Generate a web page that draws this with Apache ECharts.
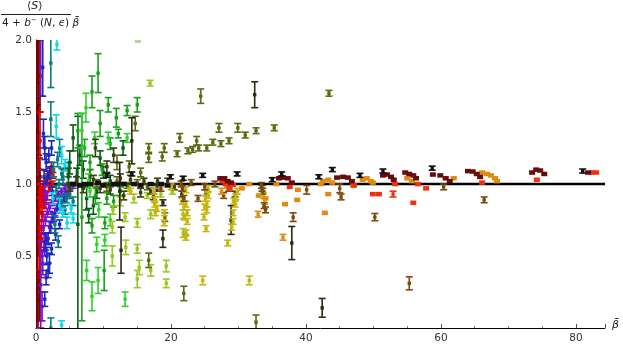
<!DOCTYPE html>
<html>
<head>
<meta charset="utf-8">
<script src="https://cdn.jsdelivr.net/npm/echarts@6/dist/echarts.min.js"></script>
<style>
  html, body { margin: 0; padding: 0; background: #fff; }
  #chart { width: 623px; height: 349px; }
</style>
</head>
<body>
<div id="chart"></div>
<script>
// each point: [beta, ratio, error]  (error 0 = plain square marker)
const darkRed = [[0.1,1.0,1.0],[0.3,1.25,0.75],[0.2,0.55,0.5],[0.4,1.6,0.4],[0.2,1.85,0.15],[0.3,0.2,0.2],
  [0.5,1.1,0.08],[0.4,0.9,0.1],[0.6,1.05,0.05],[0.2,1.45,0.1],[0.3,0.75,0.12],[0.6,1.75,0.25],[0.5,0.35,0.3]];
const red = [[0.5,0.7,0.3],[0.6,1.3,0.2],[0.7,0.95,0.05],[0.8,0.9,0.04],[0.9,0.93,0.03],[1.0,0.97,0.03],
  [1.2,1.0,0.02],[0.7,0.5,0.15],[1.5,1.02,0.02],[1.8,1.05,0.02],[2.1,1.08,0.03],[2.3,1.12,0.03],[2.5,1.06,0.02],
  [0.6,0.85,0.06],[0.9,0.8,0.05],[1.1,0.88,0.04],[0.8,0.62,0.06],[0.8,0.7,0.04],[1.0,0.78,0.03],[1.3,0.86,0.03],
  [1.6,0.92,0.03],[2.0,0.97,0.02],[2.4,1.0,0.02]];
const purple = [[0.7,1.81,0.2],[0.7,0.3,0.3],[1.0,0.45,0.08],[1.2,0.6,0.06],[1.1,0.7,0.05],[1.4,0.75,0.04],
  [1.7,0.8,0.03],[2.0,0.84,0.03],[2.4,0.87,0.02],[2.8,0.9,0.02],[3.3,0.93,0.02],[3.8,0.95,0.02],[4.3,0.97,0.02],
  [4.8,0.98,0.02],[5.5,0.99,0.02],[1.3,0.95,0.05],[1.5,0.9,0.04],[0.9,0.15,0.1],[1.3,0.55,0.05],[1.6,0.62,0.04],
  [2.0,0.7,0.04],[2.4,0.76,0.03],[2.8,0.8,0.03],[3.3,0.85,0.03],[3.9,0.89,0.02],[4.6,0.92,0.02]];
const blue = [[1.0,1.81,0.2],[2.0,0.45,0.07],[1.6,0.5,0.06],[1.4,0.6,0.06],[1.8,0.62,0.04],[2.2,0.7,0.04],
  [2.6,0.77,0.03],[3.1,0.83,0.03],[3.7,0.87,0.02],[4.2,0.9,0.02],[1.3,1.25,0.08],[1.5,1.15,0.06],[1.2,1.05,0.05],
  [1.7,1.05,0.04],[2.0,1.08,0.04],[1.1,1.35,0.1],[2.4,0.95,0.03],[1.5,0.35,0.05],[1.8,0.4,0.05],[2.3,0.55,0.04],
  [2.9,0.65,0.04],[3.5,0.72,0.03],[1.3,0.2,0.05],[1.9,1.2,0.05],[2.3,1.25,0.05]];
const teal = [[2.2,1.84,0.17],[2.2,1.45,0.12],[2.2,0.0,0.07],[3.0,0.95,0.04],[3.4,1.0,0.03],[3.8,0.88,0.04],
  [4.5,0.9,0.03],[5.0,0.93,0.03],[2.6,1.1,0.05],[3.2,1.17,0.05],[3.8,1.07,0.04],[4.3,0.82,0.03],[5.5,0.88,0.03],
  [2.8,0.72,0.06],[3.5,1.25,0.06],[4.0,1.05,0.05],[4.8,1.1,0.05],[3.3,0.6,0.04]];
const cyan = [[3.1,1.97,0.04],[3.0,1.40,0.08],[4.6,0.73,0.04],[4.0,0.8,0.03],[3.5,0.85,0.05],[5.2,0.83,0.03],
  [3.8,0.02,0.03],[3.8,1.2,0.06],[4.3,1.13,0.04],[5.5,0.76,0.03],[2.5,0.9,0.04]];
const darkGreen = [[6.2,0.72,0.75],[5.5,1.32,0.09],[12.9,1.25,0.05],[5.0,1.15,0.08],[6.0,1.05,0.06],[7.0,1.1,0.06],
  [8.0,1.05,0.05],[9.0,0.95,0.05],[7.5,0.9,0.08],[8.5,0.85,0.06],[10.0,1.08,0.04],[11.0,1.02,0.04],[6.5,1.2,0.07],
  [9.5,1.18,0.05],[4.8,1.05,0.06],[7.8,0.78,0.05]];
const green = [[6.8,0.77,0.72],[6.2,1.37,0.12],[9.2,1.77,0.135],[8.3,1.64,0.11],[9.5,1.42,0.09],[10.7,1.55,0.05],
  [11.9,1.46,0.065],[8.3,0.71,0.05],[10.2,0.73,0.04],[10.1,0.40,0.14],[15,1.55,0.05],[12.2,1.35,0.03],
  [13.5,1.51,0.035],[11,1.28,0.04],[8.0,1.15,0.05],[9.8,1.1,0.04],[10.5,0.9,0.04],[8.8,0.92,0.06],[11.5,0.88,0.04],
  [12.5,0.95,0.03],[7.2,1.25,0.06]];
const brightGreen = [[7.4,1.53,0.10],[6.8,1.37,0.12],[8.7,1.32,0.04],[10.7,1.32,0.04],[13.5,1.32,0.03],
  [7.5,0.40,0.07],[8.3,0.22,0.1],[9.2,0.33,0.09],[9.0,0.58,0.05],[10.2,0.61,0.04],[13.2,0.2,0.05],[7.8,1.02,0.05],
  [9.3,0.82,0.05],[11.0,0.75,0.04],[8.0,0.95,0.04]];
const yellowGreen = [[16.9,1.70,0.02],[11.3,0.70,0.04],[11.4,0.82,0.03],[13.2,0.77,0.03],[13.3,0.56,0.05],
  [15,0.73,0.03],[15,0.55,0.03],[15.3,0.42,0.05],[15,0.34,0.06],[17,0.40,0.04],[17,0.79,0.03],[19.3,0.43,0.04],
  [19.3,0.31,0.03],[21.8,0.79,0.03],[21.8,0.66,0.03],[12.5,0.88,0.03],[14.5,0.9,0.03],[16.5,0.92,0.02],
  [18.5,0.93,0.02],[20.2,0.95,0.02],[13.8,0.97,0.02],[11.3,0.5,0.07]];
const paleGreen = [[15.1,1.995,0]];
const olive = [[24.4,1.61,0.05],[43.4,1.63,0.02],[21.3,1.32,0.03],[23.8,1.30,0.03],[27.1,1.39,0.03],
  [29.9,1.39,0.03],[31.0,1.34,0.02],[32.6,1.37,0.02],[35.3,1.39,0.02],[16.7,1.25,0.03],[19.0,1.25,0.03],
  [20.9,1.21,0.02],[22.5,1.23,0.02],[23.2,1.24,0.02],[24.1,1.25,0.02],[25.3,1.25,0.02],[26.2,1.29,0.02],
  [27.4,1.28,0.02],[28.6,1.30,0.02],[16.7,1.18,0.03],[18.7,1.19,0.03],[16.7,0.47,0.05],[19.1,0.77,0.03],
  [21.9,0.24,0.05],[14.7,1.42,0.05],[32.6,0.04,0.05],[13.8,1.12,0.04],[15.5,1.08,0.03],[12.0,1.15,0.05],
  [9.0,1.0,0.03],[10.5,0.98,0.03],[12.0,1.02,0.03],[13.5,0.99,0.02],[15.0,1.01,0.02],[16.5,0.98,0.02]];
const darkOlive = [[5,0.98,0.03],[6,1.02,0.03],[7,0.97,0.03],[8.5,1.03,0.03],[9.5,0.97,0.03],[11,0.96,0.03],
  [12.5,1.04,0.03],[14,1.03,0.03],[16,1.02,0.02],[17,0.95,0.02],[18,1.02,0.02],[19.5,1.02,0.02],[20.5,0.98,0.02],
  [13,0.92,0.03],[15.5,0.94,0.03],[10.5,1.12,0.04],[11.5,1.2,0.05],[8.8,1.25,0.06],[17.4,0.91,0.02],
  [21.6,0.93,0.02],[25.2,0.94,0.02],[29.5,0.93,0.02],[33.5,0.97,0.02]];
const nearBlack = [[32.4,1.62,0.09],[14.2,1.3,0.16],[12.6,0.54,0.16],[12.4,0.95,0.2],[28.9,0.75,0.1],
  [37.9,0.59,0.115],[42.4,0.14,0.065],[18.8,0.62,0.06],[18.8,0.87,0.02],[17.9,0.97,0.02]];
const yellow = [[24.7,0.33,0.03],[31.6,0.33,0.03],[28.4,0.59,0.02],[25.2,0.69,0.02],[24.9,0.77,0.02],
  [17.6,0.89,0.02],[19.0,0.80,0.02],[19.0,0.73,0.02],[17.5,0.95,0.02],[22.2,0.96,0.02],[22.2,0.86,0.02],
  [22.4,0.80,0.02],[22.4,0.74,0.02],[22.2,0.66,0.02],[22.2,0.63,0.02],[25.5,0.97,0.02],[25.5,0.92,0.02],
  [25.3,0.86,0.02],[25.3,0.82,0.02],[29.8,0.95,0.02],[29.6,0.91,0.02],[29.5,0.86,0.02],[29.2,0.74,0.02],
  [17.9,0.83,0.02],[14.0,0.95,0.02],[20.0,0.98,0.02],[28.3,0.98,0],[17.6,0.86,0.02],[17.7,0.80,0.02],
  [21.7,0.88,0.02],[21.9,0.84,0.02],[22.0,0.77,0.02],[25.1,0.90,0.02],[25.0,0.84,0.02],[29.3,0.88,0.02],
  [29.2,0.80,0.02],[29.0,0.70,0.02],[33.7,0.92,0.02],[33.9,0.88,0.02]];
const brown = [[18.5,0.97,0.02],[21.7,0.97,0.02],[21.9,0.90,0.02],[25.0,0.98,0.02],[28.5,0.97,0.02],
  [33.4,0.99,0.02],[33.6,0.95,0.02],[33.8,0.85,0.02],[34.0,0.82,0.02],[38.1,0.77,0.03],[55.3,0.31,0.045],
  [50.2,0.77,0.025],[66.4,0.89,0.02],[60.4,0.98,0.02],[45.0,0.97,0.03],[40.1,0.96,0.03],[45.2,0.91,0.02],
  [24.0,0.90,0.02],[27.8,0.92,0.02],[21.5,1.0,0.02],[23.0,1.01,0.02],[26.5,1.0,0.02]];
const orange = [[36.6,0.63,0.02],[36.9,0.86,0],[38.7,0.89,0],[42.8,0.80,0],[43.3,0.93,0],[32.9,0.79,0.02],
  [38.8,0.96,0],[33.0,0.92,0],[34.0,0.90,0],[30.5,0.97,0],[27.5,0.95,0.02],[31.6,1.0,0],[35.6,1.0,0],[47,0.99,0],
  [42.2,1.0,0],[42.5,1.02,0],[43.3,1.03,0],[43.9,1.01,0],[48.4,1.03,0],[49.0,1.04,0],[49.6,1.02,0],[49.9,1.01,0],
  [55.0,1.04,0],[55.7,1.02,0],[61.9,1.04,0],[66.1,1.08,0],[66.8,1.07,0],[67.4,1.06,0],[68.0,1.04,0],[68.3,1.02,0]];
const redOrange = [[55.9,0.87,0],[52.9,0.93,0.02],[49.9,0.93,0],[50.8,0.93,0],[57.8,0.97,0],[74.2,1.03,0],
  [29.2,0.995,0],[37.6,0.98,0],[47.1,0.99,0],[53.2,1.0,0],[56.6,1.0,0],[66.1,1.01,0],[27.6,1.02,0],[28.1,1.0,0],
  [28.7,0.97,0],[82.4,1.08,0],[83.0,1.08,0]];
const wine = [[27.3,1.04,0],[27.9,1.04,0],[28.4,1.02,0],[28.9,1.01,0],[36.0,1.04,0],[36.6,1.045,0],
  [37.3,1.04,0],[37.9,1.01,0],[44.6,1.045,0],[45.5,1.05,0],[46.2,1.045,0],[46.8,1.02,0],[51.4,1.06,0],
  [52.0,1.066,0],[52.6,1.05,0],[53.0,1.03,0],[54.7,1.08,0],[55.3,1.07,0],[55.9,1.06,0],[56.3,1.04,0],
  [58.8,1.066,0],[59.9,1.06,0],[60.7,1.04,0],[61.3,1.02,0],[64.0,1.09,0],[64.7,1.087,0],[65.3,1.07,0],
  [65.8,1.05,0],[73.5,1.08,0],[74.1,1.1,0],[74.7,1.094,0],[75.3,1.07,0],[81.8,1.08,0]];
const black = [[10.5,1.06,0.01],[14.2,1.07,0.01],[19.9,1.05,0.01],[21.8,1.04,0.01],[24.7,1.06,0.01],
  [29.8,1.07,0.01],[35,1.03,0.01],[36.4,1.07,0.01],[41.9,1.05,0.01],[43.9,1.10,0.01],[48,1.06,0.01],
  [51.4,1.09,0.01],[58.7,1.11,0.01],[81,1.09,0.01],[8,1.0,0],[9.2,1.01,0],[11.5,1.0,0],[13,1.0,0],[17,1.0,0],
  [5.5,1.0,0],[6.5,0.99,0],[7.2,1.0,0],[10,0.99,0],[12,1.0,0],[14.5,1.0,0],[15.5,0.99,0],[18.5,1.0,0],[19.5,0.99,0]];

const groups = [
  ['#7a0000', darkRed], ['#e00000', red], ['#7a10d0', purple], ['#1a2ac0', blue], ['#0a7a80', teal],
  ['#10d8e8', cyan], ['#0a5a14', darkGreen], ['#18a018', green], ['#30d030', brightGreen],
  ['#98c820', yellowGreen], ['#b0d890', paleGreen], ['#5a6a10', olive], ['#3a4010', darkOlive],
  ['#2e2a12', nearBlack], ['#c8b410', yellow], ['#7a4a10', brown], ['#e08a10', orange], ['#f03010', redOrange],
  ['#6a0a0a', wine], ['#151010', black]
];

const xMax = 84.3;

function renderErr(params, api) {
  const x = api.value(0), y = api.value(1), e = api.value(2);
  const color = api.visual('color');
  const c = api.coord([x, y]);
  if (e === 0) {
    return { type: 'rect', shape: { x: c[0] - 3, y: c[1] - 2.2, width: 6, height: 4.5 }, style: { fill: color } };
  }
  let t = api.coord([x, y + e])[1];
  let b = api.coord([x, y - e])[1];
  if (b - t < 4) { t = c[1] - 2; b = c[1] + 2; }
  const s = { stroke: color, lineWidth: 1.6 };
  return {
    type: 'group',
    children: [
      { type: 'line', shape: { x1: c[0], y1: t, x2: c[0], y2: b }, style: s },
      { type: 'line', shape: { x1: c[0] - 3.5, y1: t, x2: c[0] + 3.5, y2: t }, style: s },
      { type: 'line', shape: { x1: c[0] - 3.5, y1: b, x2: c[0] + 3.5, y2: b }, style: s },
      { type: 'rect', shape: { x: c[0] - 1.7, y: c[1] - 1.7, width: 3.4, height: 3.4 }, style: { fill: color } }
    ]
  };
}

const chart = echarts.init(document.getElementById('chart'), null, { renderer: 'canvas' });

const series = [{
  type: 'line',
  data: [[0, 1], [xMax, 1]],
  symbol: 'none',
  lineStyle: { color: '#000', width: 2.5 },
  z: 1,
  silent: true
}];
groups.forEach(([color, pts]) => {
  series.push({
    type: 'custom',
    data: pts,
    renderItem: renderErr,
    encode: { x: 0, y: 1 },
    itemStyle: { color: color },
    clip: true,
    z: 2
  });
});

const font = 'DejaVu Sans';

chart.setOption({
  animation: false,
  grid: { left: 36, right: 18, top: 40, bottom: 21 },
  xAxis: {
    type: 'value',
    min: 0,
    max: xMax,
    interval: 20,
    axisLine: { lineStyle: { color: '#000', width: 1 } },
    axisTick: { inside: true, length: 4, lineStyle: { color: '#555' } },
    minorTick: { show: true, splitNumber: 4, length: 2, lineStyle: { color: '#777' } },
    axisLabel: { color: '#333', fontFamily: font, fontSize: 10.5, margin: 5, showMaxLabel: false },
    splitLine: { show: false }
  },
  yAxis: {
    type: 'value',
    min: 0,
    max: 2,
    interval: 0.5,
    axisLine: { show: true, lineStyle: { color: '#000', width: 1 } },
    axisTick: { inside: true, length: 4, lineStyle: { color: '#555' } },
    minorTick: { show: true, splitNumber: 5, length: 2, lineStyle: { color: '#777' } },
    axisLabel: {
      color: '#333', fontFamily: font, fontSize: 10.5, margin: 4, showMinLabel: false,
      formatter: v => v.toFixed(1)
    },
    splitLine: { show: false }
  },
  graphic: [
    { type: 'text', left: 27, top: 1, style: { text: '⟨{i|S}⟩', font: '11px ' + font, fill: '#222',
        rich: { i: { fontStyle: 'italic', fontFamily: font, fontSize: 11 } } } },
    { type: 'line', shape: { x1: 1, y1: 14.5, x2: 71, y2: 14.5 }, style: { stroke: '#222', lineWidth: 1 } },
    { type: 'text', left: 2, top: 17, style: {
        text: '4 + {i|b}{s|−} ({i|N}, {i|ϵ}) {i|β̄}', font: '10.5px ' + font, fill: '#222',
        rich: { i: { fontStyle: 'italic', fontFamily: font, fontSize: 10.5 },
                s: { fontFamily: font, fontSize: 7, verticalAlign: 'top', padding: [0, 0, 6, 0] } } } },
    { type: 'text', left: 612, top: 320, style: { text: 'β̄', font: 'italic 11px ' + font, fill: '#222' } }
  ],
  series: series
});
</script>
</body>
</html>
